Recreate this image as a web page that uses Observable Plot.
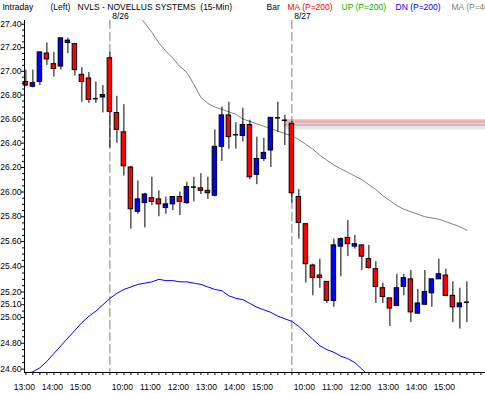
<!DOCTYPE html>
<html><head><meta charset="utf-8">
<script src="https://cdn.jsdelivr.net/npm/d3@7"></script>
<script src="https://cdn.jsdelivr.net/npm/@observablehq/plot@0.6"></script>
<style>
html,body{margin:0;padding:0;background:#fff;overflow:hidden;}
#chart{width:485px;height:393px;}
</style></head><body><div id="chart"></div>
<script>
// 15-minute bars, index 0 = 8/25 13:00 ... 63 = 8/27 15:45
const opens  = [26.91,26.87,26.91,27.15,27.06,27.04,27.24,27.23,26.97,26.94,26.77,26.78,
  27.11,26.65,26.49,26.20,25.84,25.91,25.95,25.94,25.87,25.90,25.96,25.91,26.04,26.03,26.01,25.97,26.37,26.63,26.47,26.46,26.55,26.14,26.27,26.34,26.61,26.59,
  26.56,25.96,25.74,25.41,25.33,25.28,25.13,25.56,25.63,25.56,25.57,25.46,25.38,25.23,25.15,25.09,25.24,25.30,25.03,25.10,25.19,25.30,25.33,25.17,25.08,25.12];
const highs  = [27.01,27.01,27.16,27.24,27.16,27.28,27.28,27.23,27.03,26.99,26.91,26.88,
  27.16,26.79,26.72,26.21,26.09,25.99,26.12,26.01,25.96,25.96,26.00,26.08,26.12,26.15,26.12,26.51,26.70,26.74,26.57,26.69,26.59,26.45,26.44,26.61,26.74,26.63,
  26.58,26.02,25.74,25.42,25.46,25.28,25.62,25.63,25.77,25.65,25.57,25.57,25.44,25.27,25.15,25.34,25.34,25.37,25.22,25.37,25.30,25.46,25.38,25.28,25.23,25.28];
const lows   = [26.87,26.86,26.88,27.05,26.95,27.01,27.15,26.96,26.74,26.73,26.73,26.65,
  26.36,26.40,26.13,25.70,25.82,25.71,25.89,25.80,25.82,25.85,25.81,25.90,25.92,25.98,25.94,25.96,26.25,26.35,26.35,26.41,26.10,26.06,26.25,26.20,26.49,26.38,
  25.91,25.62,25.27,25.17,25.23,25.11,25.08,25.32,25.48,25.54,25.37,25.38,25.11,25.11,24.93,25.09,25.17,24.96,25.03,25.10,25.08,25.30,25.17,24.96,24.91,24.96];
const closes = [26.88,26.90,27.16,27.10,27.02,27.28,27.26,27.01,26.91,26.76,26.77,26.80,
  26.66,26.51,26.21,25.86,25.94,25.98,25.92,25.90,25.90,25.96,25.92,26.04,26.04,26.01,25.99,26.37,26.63,26.45,26.47,26.55,26.12,26.27,26.32,26.61,26.61,26.59,
  25.99,25.75,25.42,25.31,25.31,25.13,25.57,25.62,25.58,25.58,25.48,25.39,25.24,25.16,25.07,25.23,25.31,25.04,25.11,25.20,25.30,25.34,25.17,25.08,25.11,25.12];

// gray MA, from bar 16
const maStart = 16;
const maValues = [27.48,27.41,27.33,27.24,27.17,27.11,27.04,26.99,26.89,26.78,26.73,26.70,26.68,26.66,26.64,26.60,
  26.58,26.56,26.54,26.52,26.50,26.48,26.46,26.43,26.39,26.35,26.30,26.26,26.22,26.19,26.16,26.13,
  26.10,26.06,26.02,25.97,25.93,25.89,25.86,25.84,25.82,25.80,25.79,25.78,25.76,25.74,25.72,25.69];
// blue DN line, from bar 0
const dnStart = 0;
const dnValues = [24.56,24.58,24.61,24.66,24.72,24.78,24.84,24.90,24.96,25.01,25.05,25.10,25.15,25.19,25.22,25.24,
  25.26,25.27,25.28,25.30,25.29,25.29,25.28,25.28,25.27,25.26,25.24,25.22,25.21,25.17,25.15,25.14,
  25.11,25.08,25.06,25.04,25.01,24.99,24.97,24.93,24.88,24.83,24.78,24.75,24.73,24.70,24.68,24.65,24.60,24.55];

const levelPrice = 26.58;
const levelStartBar = 37;

const tickBars = [0,4,8,14,18,22,26,30,34,40,44,48,52,56,60];
const tickLabels = ["13:00","14:00","15:00","10:00","11:00","12:00","13:00","14:00","15:00","10:00","11:00","12:00","13:00","14:00","15:00"];
const dayBars = [12, 38];
const dayLabels = ["8/26", "8/27"];
const yTicks = [27.40,27.20,27.00,26.80,26.60,26.40,26.20,26.00,25.80,25.60,25.40,25.20,25.10,25.00,24.80,24.60];

const headerTexts = ["Intraday","(Left)","NVLS - NOVELLUS SYSTEMS\u00a0\u00a0(15-Min)","Bar","MA (P=200)","UP (P=200)","DN (P=200)","MA (P=40)"];
const headerColors = ["#000","#000","#000","#000","#ff0000","#00b400","#0000ff","#808080"];

// ---- build ----
const xMin = -0.2, xMax = 65.66, yMin = 24.574, yMax = 27.432;
const headerX = [2, 50, 77, 266, 287, 341, 395, 451];
const bars = opens.map((o, i) => ({i, o, h: highs[i], l: lows[i], c: closes[i]}));
const bodies = bars.filter(d => d.o !== d.c);
const dojis = bars.filter(d => d.o === d.c);
const ma = maValues.map((v, k) => ({i: maStart + k, v}));
const dn = dnValues.map((v, k) => ({i: dnStart + k, v}));
const minor = d3.range(24.60, 27.43, 0.05).map(v => +v.toFixed(2)).filter(v => !yTicks.some(t => Math.abs(t - v) < 1e-6));
const allBars = d3.range(0, 66);

const chart = Plot.plot({
  width: 485, height: 393,
  marginLeft: 24, marginRight: 0, marginTop: 20, marginBottom: 21,
  style: {fontFamily: "'Liberation Sans', Arial, sans-serif", fontSize: "8.5px", color: "#000", background: "#fff"},
  x: {type: "linear", domain: [xMin, xMax], axis: null, label: null},
  y: {type: "log", domain: [yMin, yMax], axis: null, label: null},
  marks: [
    Plot.ruleY([levelPrice], {x1: levelStartBar, x2: xMax, stroke: "#e6e6e6", strokeWidth: 4, dy: 6}),
    Plot.ruleY([levelPrice], {x1: levelStartBar, x2: xMax, stroke: "#c2c2c2", strokeWidth: 2, dy: 3.5}),
    Plot.ruleY([levelPrice], {x1: levelStartBar, x2: xMax, stroke: "#f8c6c6", strokeWidth: 5}),
    Plot.ruleY([levelPrice], {x1: levelStartBar, x2: xMax, stroke: "#f2a2a2", strokeWidth: 2}),
    Plot.ruleX(dayBars, {stroke: "#808080", strokeDasharray: "9,3"}),
    Plot.line(ma, {x: "i", y: "v", stroke: "#808080", strokeWidth: 1, clip: true}),
    Plot.line(dn, {x: "i", y: "v", stroke: "#0000ff", strokeWidth: 1, clip: true}),
    Plot.ruleX(bars, {x: "i", y1: "l", y2: "h", stroke: "#000", strokeWidth: 1}),
    Plot.rect(bodies, {x1: d => d.i - 0.32, x2: d => d.i + 0.32, y1: "o", y2: "c",
      fill: d => d.c > d.o ? "#0000ff" : "#ff0000", stroke: "#000", strokeWidth: 1}),
    Plot.ruleY(dojis, {y: "c", x1: d => d.i - 0.36, x2: d => d.i + 0.36, stroke: "#000", strokeWidth: 1.5}),
    Plot.ruleX([xMin], {stroke: "#000"}),
    Plot.ruleY([yMin], {stroke: "#000"}),
    Plot.axisY({ticks: yTicks, tickFormat: d => d.toFixed(2), tickSize: 3, tickPadding: 0}),
    Plot.axisY({ticks: minor, tickSize: 2, tickFormat: () => ""}),
    Plot.axisX({ticks: allBars, tickSize: 3, tickFormat: () => ""}),
    Plot.axisX({ticks: tickBars, tickSize: 0, tickPadding: 11, dx: -1.5, tickFormat: i => tickLabels[tickBars.indexOf(i)]}),
    Plot.text(dayBars, {x: d => d, text: (d, k) => dayLabels[k], frameAnchor: "top", textAnchor: "start", lineAnchor: "bottom", dx: 2.3, dy: -2}),
    ...headerTexts.map((t, k) => Plot.text([t], {text: d => d, frameAnchor: "top-left", textAnchor: "start", lineAnchor: "bottom",
      dx: headerX[k] - 24, dy: -11, fill: headerColors[k]}))
  ]
});
document.getElementById("chart").append(chart);
</script>
</body></html>
